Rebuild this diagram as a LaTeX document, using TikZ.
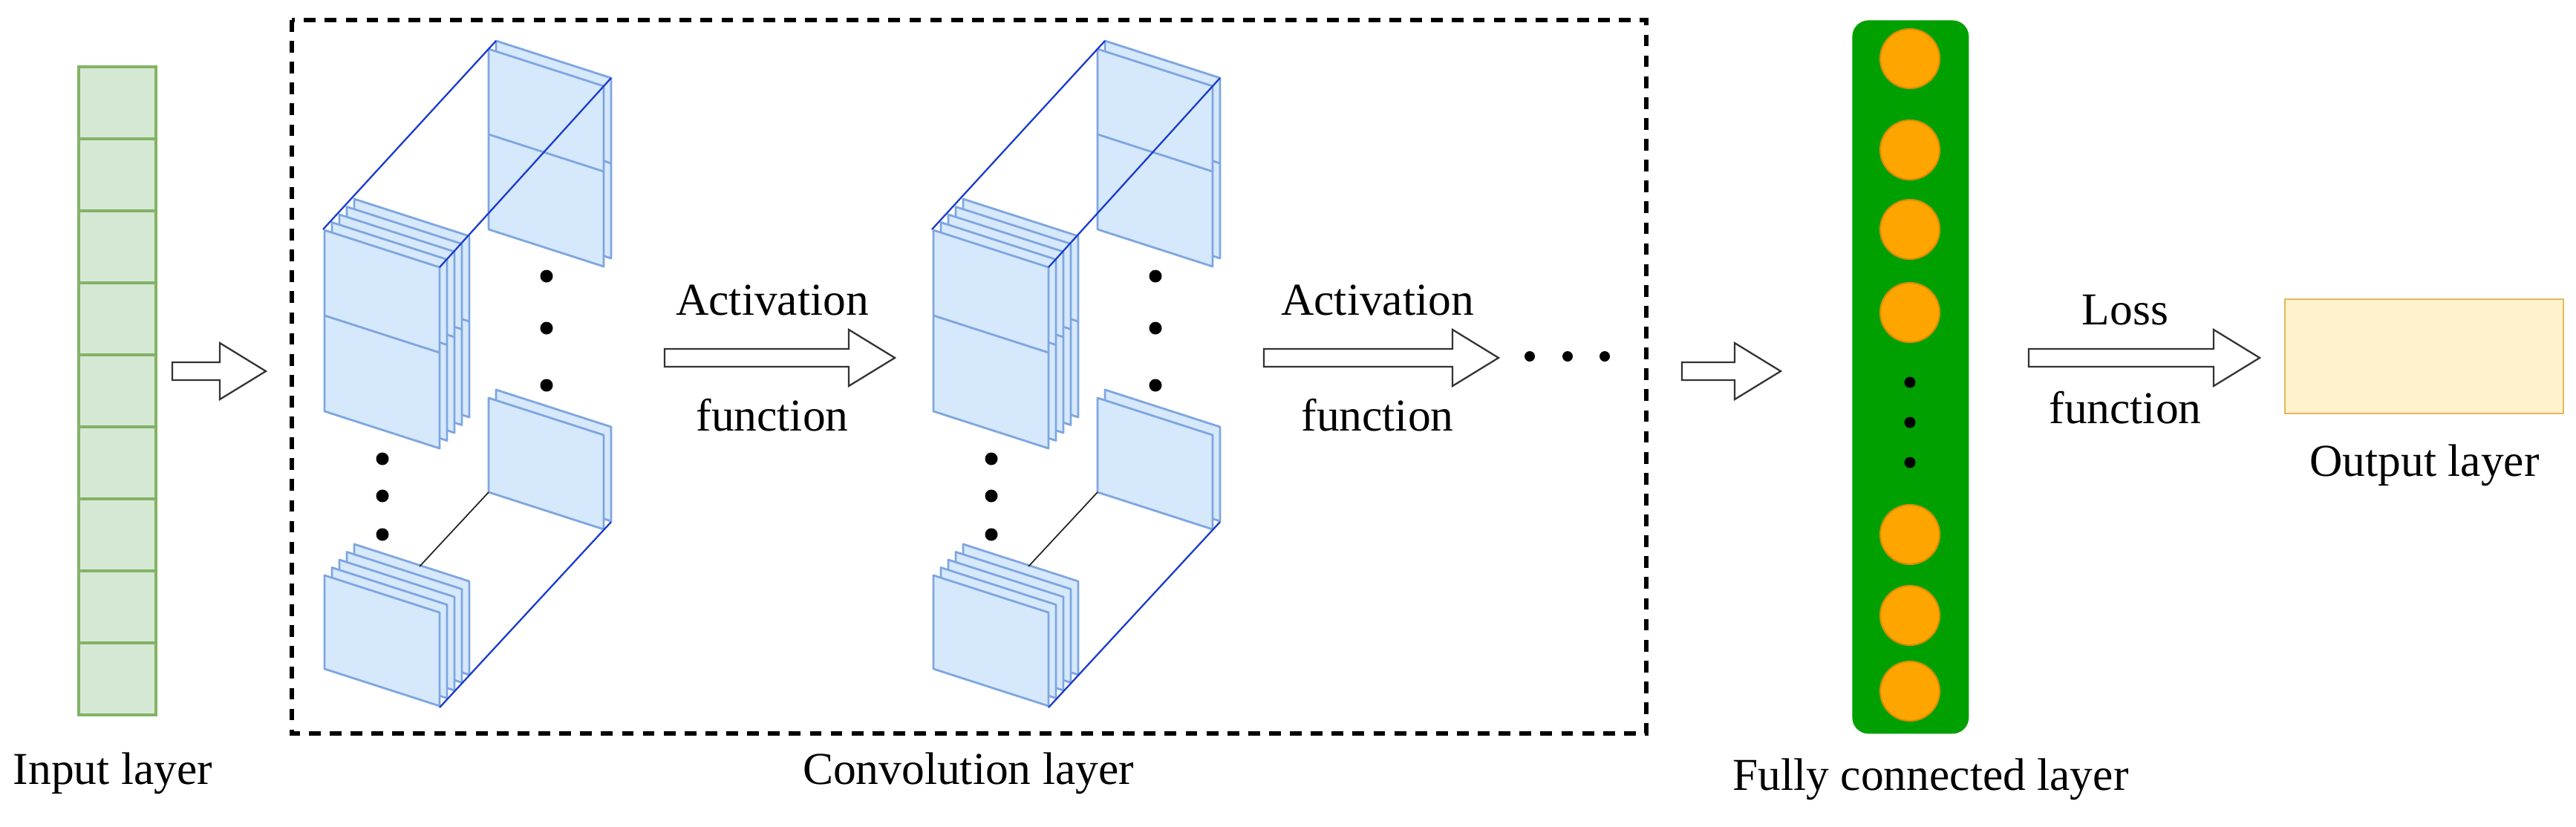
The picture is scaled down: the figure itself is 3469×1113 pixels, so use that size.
\documentclass[tikz,border=0pt]{standalone}
\usepackage{fontspec}
\setmainfont{Liberation Serif}
\definecolor{pnlF}{HTML}{D6E8FB}
\definecolor{pnlD}{HTML}{7EA6E0}
\definecolor{blu}{HTML}{1A3CCC}
\definecolor{inF}{HTML}{D5E8D4}
\definecolor{inD}{HTML}{82B366}
\definecolor{fcG}{HTML}{00A000}
\definecolor{orF}{HTML}{FFA500}
\definecolor{orD}{HTML}{D98E00}
\definecolor{outF}{HTML}{FFF2CC}
\definecolor{outD}{HTML}{E5B85A}
\tikzset{
  pnl/.style={fill=pnlF,draw=pnlD,line width=1.6pt,line join=round},
  bl/.style={draw=blu,line width=1.3pt},
  barr/.style={draw=black!80,fill=white,line width=1.3pt,line join=miter},
  lbl/.style={font=\fontsize{35}{42}\selectfont,inner sep=0pt},
}
% panel: x, y (top-left), height, midline flag
\newcommand\mypanel[4]{%
  \path[pnl] (#1,#2) -- ++(155,50) -- ++(0,#3) -- ++(-155,-50) -- cycle;
  \ifnum#4=1 \draw[pnlD,line width=1.6pt] (#1,#2+115) -- ++(155,50);\fi}
\newcommand\myarrow[3]{%
  \path[barr] (#1,#3-12) -- (#2-62,#3-12) -- (#2-62,#3-38) -- (#2,#3) -- (#2-62,#3+38) -- (#2-62,#3+12) -- (#1,#3+12) -- cycle;}
\newcommand\myblock[1]{%
  \begin{scope}[xshift=#1*0.02cm]
  % right upper
  \mypanel{668}{55}{243}{1}
  \mypanel{658}{66}{243}{1}
  % right lower
  \mypanel{668}{525}{127}{0}
  \mypanel{658}{536}{127}{0}
  \foreach \y in {372,442,519} \fill (736,\y) circle (8.5);
  % left lower stack
  \foreach \k in {4,3,2,1,0} {\mypanel{437+10*\k}{775-10.5*\k}{126}{0}}
  \draw[black!85,line width=1pt] (565,763) -- (658,663);
  % left upper stack
  \foreach \k in {4,3,2,1,0} {\mypanel{437+10*\k}{310-10.5*\k}{244}{1}}
  \foreach \y in {618,668,720} \fill (515,\y) circle (8.5);
  % blue lines
  \draw[bl] (435,309) -- (668,55);
  \draw[bl] (592,360) -- (823,105);
  \draw[bl] (592,953) -- (823,703);
  \end{scope}}
\begin{document}
\begin{tikzpicture}[x=0.02cm,y=-0.02cm]
\useasboundingbox (0,0) rectangle (3469,1113);
% input layer
\foreach \i in {0,...,8}
  \node[draw=inD,fill=inF,line width=2.2pt,minimum width=104*0.02cm,minimum height=97*0.02cm,inner sep=0pt,anchor=north west] (in\i) at (104,88+97*\i) {};
\node[lbl] (inl) at (152,1042) {Input layer};
\myarrow{232}{358}{500}
% conv box
\draw[black,line width=3.4pt,dash pattern=on 9pt off 7pt] (393,27) rectangle (2217,988);
\node[lbl] (cvl) at (1304,1042) {Convolution layer};
\myblock{0}
\myblock{820}
\myarrow{895}{1205}{482}
\node[lbl] (a1) at (1040,404) {Activation};
\node[lbl] (f1) at (1040,559) {function};
\myarrow{1702}{2018}{482}
\node[lbl] (a2) at (1855,404) {Activation};
\node[lbl] (f2) at (1855,559) {function};
\foreach \x in {2060,2111,2161} \fill (\x,480) circle (7);
\myarrow{2265}{2398}{500}
% fully connected
\node[fill=fcG,draw=none,rounded corners=22*0.02cm,minimum width=157*0.02cm,minimum height=961*0.02cm,anchor=north west,inner sep=0pt] (fc) at (2494,27) {};
\foreach \y in {79,202,309,421,720,829,931}
  \fill[orF,draw=orD,line width=1.2pt] (2572,\y) circle (40);
\foreach \y in {515,569,623} \fill (2572,\y) circle (7.5);
\node[lbl] (fcl) at (2600,1050) {Fully connected layer};
\myarrow{2732}{3043}{482}
\node[lbl] (ls) at (2862,418) {Loss};
\node[lbl] (lf) at (2862,549) {function};
\node[draw=outD,fill=outF,line width=1.3pt,minimum width=375*0.02cm,minimum height=154*0.02cm,anchor=north west,inner sep=0pt] (out) at (3076,402) {};
\node[lbl] (ol) at (3265,627) {Output layer};
\end{tikzpicture}
\end{document}
